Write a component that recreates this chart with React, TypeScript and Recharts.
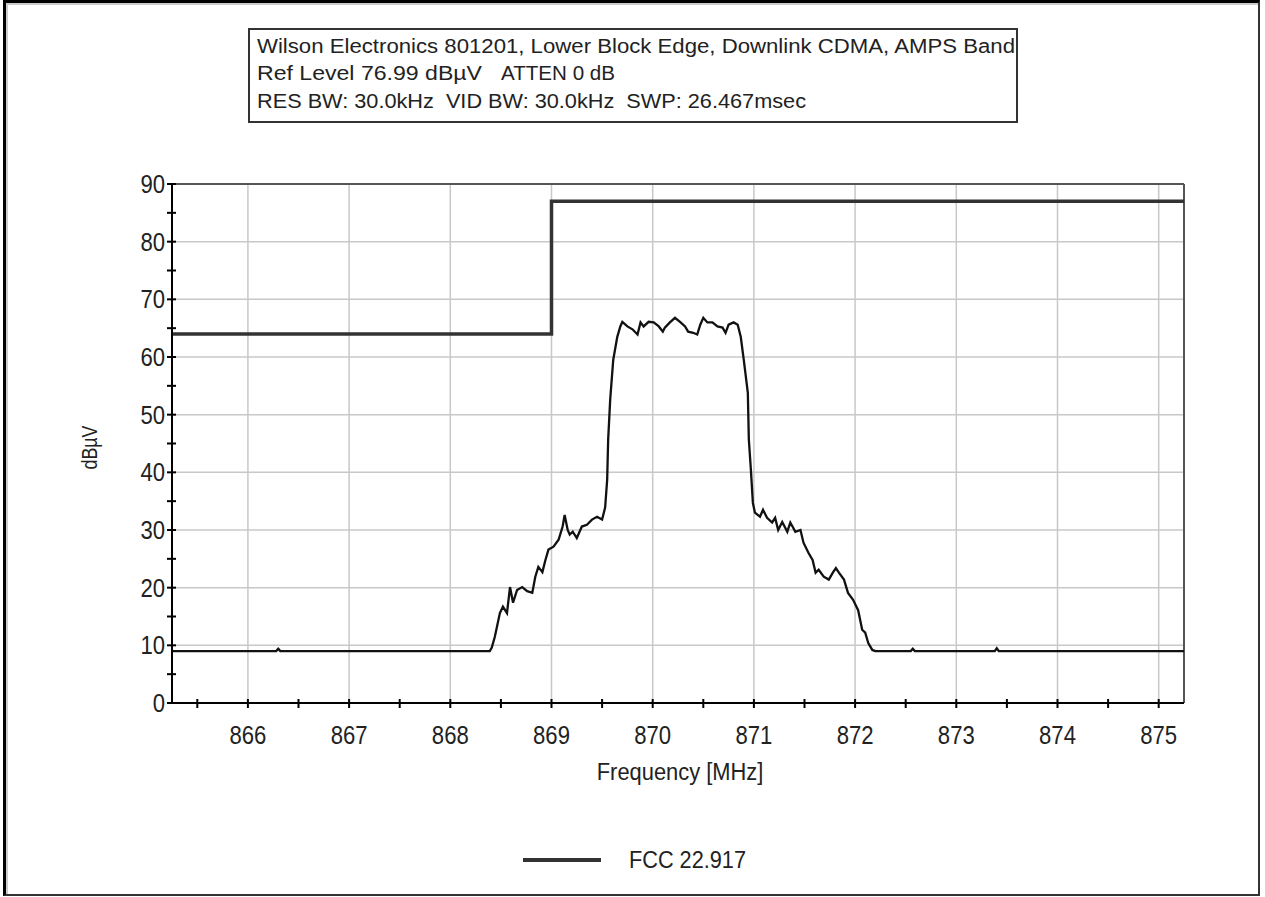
import React from "react";
import { LineChart, Line, XAxis, YAxis, CartesianGrid, ReferenceLine, Legend } from "recharts";

// measured spectrum trace (MHz / dBµV)
const freqs = [
  865.25, 866.28, 866.3, 866.32, 868.39, 868.41, 868.44, 868.49, 868.52, 868.56,
  868.59, 868.62, 868.66, 868.71, 868.76, 868.81, 868.84, 868.87, 868.91, 868.94,
  868.97, 869.02, 869.07, 869.11, 869.13, 869.16, 869.18, 869.21, 869.25, 869.3,
  869.35, 869.4, 869.45, 869.5, 869.53, 869.55, 869.56, 869.58, 869.61, 869.65,
  869.68, 869.7, 869.75, 869.8, 869.85, 869.88, 869.91, 869.96, 870.01, 870.06,
  870.1, 870.12, 870.17, 870.22, 870.27, 870.32, 870.35, 870.4, 870.44, 870.47,
  870.5, 870.54, 870.59, 870.64, 870.69, 870.72, 870.75, 870.8, 870.84, 870.87,
  870.9, 870.94, 870.95, 870.97, 870.99, 871.01, 871.06, 871.09, 871.13, 871.18,
  871.21, 871.24, 871.28, 871.33, 871.36, 871.41, 871.46, 871.49, 871.54, 871.58,
  871.61, 871.64, 871.69, 871.74, 871.78, 871.81, 871.84, 871.89, 871.93, 871.98,
  872.03, 872.07, 872.1, 872.13, 872.17, 872.2, 872.55, 872.57, 872.59, 873.38,
  873.4, 873.42, 875.25,
];
const levels = [
  9.0, 9.0, 9.4, 9.0, 9.0, 9.6, 11.5, 15.6, 16.7, 15.6,
  20.1, 17.4, 19.6, 20.1, 19.4, 19.1, 21.9, 23.6, 22.7, 24.8,
  26.6, 27.1, 28.3, 30.6, 32.6, 30.0, 29.2, 29.7, 28.6, 30.6,
  30.9, 31.8, 32.3, 31.8, 33.9, 38.7, 45.7, 52.6, 59.5, 63.5,
  65.3, 66.1, 65.3, 64.8, 63.9, 66.0, 65.3, 66.1, 66.0, 65.3,
  64.4, 65.1, 66.0, 66.8, 66.1, 65.3, 64.4, 64.2, 63.9, 65.6,
  66.8, 66.0, 66.0, 65.3, 65.1, 64.2, 65.6, 66.0, 65.6, 63.5,
  59.5, 53.8, 45.7, 40.5, 34.7, 33.0, 32.3, 33.5, 32.1, 31.3,
  32.1, 30.0, 31.4, 29.7, 31.3, 29.7, 30.0, 27.8, 26.0, 24.8,
  22.6, 23.1, 21.9, 21.4, 22.6, 23.4, 22.6, 21.4, 19.1, 17.9,
  16.1, 12.7, 12.2, 10.4, 9.2, 9.0, 9.0, 9.4, 9.0, 9.0,
  9.5, 9.0, 9.0,
];

// FCC 22.917 emission limit
const limitFreqs = [865.25, 869, 869, 875.25];
const limitLevels = [64, 64, 87, 87];

const xTicks = [865.5, 866, 866.5, 867, 867.5, 868, 868.5, 869, 869.5, 870, 870.5, 871, 871.5, 872, 872.5, 873, 873.5, 874, 874.5, 875];
const yTicks = [0, 5, 10, 15, 20, 25, 30, 35, 40, 45, 50, 55, 60, 65, 70, 75, 80, 85, 90];
const xGrid = [866, 867, 868, 869, 870, 871, 872, 873, 874, 875];
const yGrid = [10, 20, 30, 40, 50, 60, 70, 80];

const trace = freqs.map((f, i) => ({ f, v: levels[i] }));
const limit = limitFreqs.map((f, i) => ({ f, v: limitLevels[i] }));

const font = "'Liberation Sans', Arial, sans-serif";
const ink = "#222";

const isMajor = (v: number) => Math.abs(v - Math.round(v)) < 1e-6;

// the original uses a tall, narrow bitmap font; squeeze the glyphs to match
const Narrow = ({ children, per = 12.3, ...rest }: any) => {
  const s = String(children);
  return (
    <text {...rest} fontFamily={font} fill={ink} textLength={s.length * per} lengthAdjust="spacingAndGlyphs">
      {s}
    </text>
  );
};

const XTick = (props: any) => {
  const { x, y, payload } = props;
  const v = payload.value;
  return (
    <g>
      <line x1={x} x2={x} y1={y - 4} y2={y + 5} stroke="#000" strokeWidth={2} />
      {isMajor(v) && (
        <Narrow x={x} y={y + 41} textAnchor="middle" fontSize={26}>
          {v}
        </Narrow>
      )}
    </g>
  );
};

const YTick = (props: any) => {
  const { x, y, payload } = props;
  const v = payload.value;
  return (
    <g>
      <line x1={x - 5} x2={x + 4} y1={y} y2={y} stroke="#000" strokeWidth={2} />
      {v % 10 === 0 && (
        <Narrow x={x - 7} y={y + 9} textAnchor="end" fontSize={26}>
          {v}
        </Narrow>
      )}
    </g>
  );
};

const YLabel = (props: any) => {
  const { viewBox } = props;
  const cx = viewBox.x - 22;
  const cy = viewBox.y + viewBox.height / 2 + 4;
  return (
    <g transform={`rotate(-90 ${cx} ${cy})`}>
      <Narrow x={cx} y={cy + 7} textAnchor="middle" fontSize={22} per={11}>
        dBµV
      </Narrow>
    </g>
  );
};

const XLabel = (props: any) => {
  const { viewBox } = props;
  const cx = viewBox.x + viewBox.width / 2 + 2;
  const cy = viewBox.y + viewBox.height + 17;
  return (
    <Narrow x={cx} y={cy} textAnchor="middle" fontSize={23} per={11.1}>
      Frequency [MHz]
    </Narrow>
  );
};

const LegendBox = (props: any) => (
  <div style={{ display: "flex", justifyContent: "center", alignItems: "center", paddingLeft: 20 }}>
    {(props.payload || [])
      .filter((e: any) => e.type !== "none")
      .map((e: any) => (
        <div key={e.value} style={{ display: "flex", alignItems: "center", gap: 26 }}>
          <svg width={78} height={6}>
            <line x1={0} x2={78} y1={3} y2={3} stroke="#333" strokeWidth={4} />
          </svg>
          <svg width={136} height={34} style={{ overflow: "visible" }}>
            <Narrow x={2} y={25} fontSize={24} per={11.7}>
              {e.value}
            </Narrow>
          </svg>
        </div>
      ))}
  </div>
);

export default function App() {
  return (
    <div style={{ position: "absolute", left: 0, top: 0, width: 1265, height: 897, background: "#fff" }}>
      <div
        style={{
          position: "absolute",
          left: 3,
          top: 0,
          width: 1257,
          height: 896,
          boxSizing: "border-box",
          borderTop: "3px solid #000",
          borderLeft: "3px solid #000",
          borderRight: "2px solid #333",
          borderBottom: "2px solid #333",
          boxShadow: "inset 2px 2px 0 #ccc",
        }}
      />
      <div
        style={{
          position: "absolute",
          left: 248,
          top: 28,
          width: 770,
          height: 95,
          boxSizing: "border-box",
          border: "2px solid #333",
        }}
      >
        <svg width={766} height={91} style={{ display: "block" }}>
          <text x={7} y={23} fontSize={20} fontFamily={font} fill={ink} textLength={758} lengthAdjust="spacingAndGlyphs">
            Wilson Electronics 801201, Lower Block Edge, Downlink CDMA, AMPS Band
          </text>
          <text x={7} y={50} fontSize={20} fontFamily={font} fill={ink} textLength={225} lengthAdjust="spacingAndGlyphs">
            Ref Level 76.99 dBµV
          </text>
          <text x={251} y={50} fontSize={20} fontFamily={font} fill={ink} textLength={114} lengthAdjust="spacingAndGlyphs">
            ATTEN 0 dB
          </text>
          <text x={7} y={78} fontSize={20} fontFamily={font} fill={ink} xmlSpace="preserve" textLength={549} lengthAdjust="spacingAndGlyphs">
            {"RES BW: 30.0kHz  VID BW: 30.0kHz  SWP: 26.467msec"}
          </text>
        </svg>
      </div>
      <div style={{ position: "absolute", left: 0, top: 0 }}>
        <LineChart width={1265} height={897} margin={{ top: 184, right: 81, bottom: 134, left: 112 }}>
          <CartesianGrid stroke="#c8c8c8" strokeWidth={1.5} horizontalValues={yGrid} verticalValues={xGrid} />
          <XAxis
            type="number"
            dataKey="f"
            domain={[865.25, 875.25]}
            ticks={xTicks}
            allowDataOverflow
            height={60}
            tickSize={0}
            tickMargin={0}
            tickLine={false}
            axisLine={{ stroke: "#000", strokeWidth: 2 }}
            tick={<XTick />}
            interval={0}
            label={<XLabel />}
          />
          <YAxis
            type="number"
            domain={[0, 90]}
            ticks={yTicks}
            width={60}
            tickSize={0}
            tickMargin={0}
            tickLine={false}
            axisLine={{ stroke: "#000", strokeWidth: 2 }}
            tick={<YTick />}
            interval={0}
            label={<YLabel />}
          />
          <ReferenceLine y={90} stroke="#555" strokeWidth={2} />
          <ReferenceLine x={875.25} stroke="#555" strokeWidth={2} />
          <Line
            data={trace}
            dataKey="v"
            type="linear"
            stroke="#111"
            strokeWidth={2.3}
            dot={false}
            legendType="none"
            isAnimationActive={false}
          />
          <Line
            data={limit}
            dataKey="v"
            name="FCC 22.917"
            type="linear"
            stroke="#333"
            strokeWidth={3.5}
            dot={false}
            isAnimationActive={false}
          />
          <Legend
            verticalAlign="middle"
            align="center"
            wrapperStyle={{ top: 843, left: 0, width: 1265 }}
            content={<LegendBox />}
          />
        </LineChart>
      </div>
    </div>
  );
}
